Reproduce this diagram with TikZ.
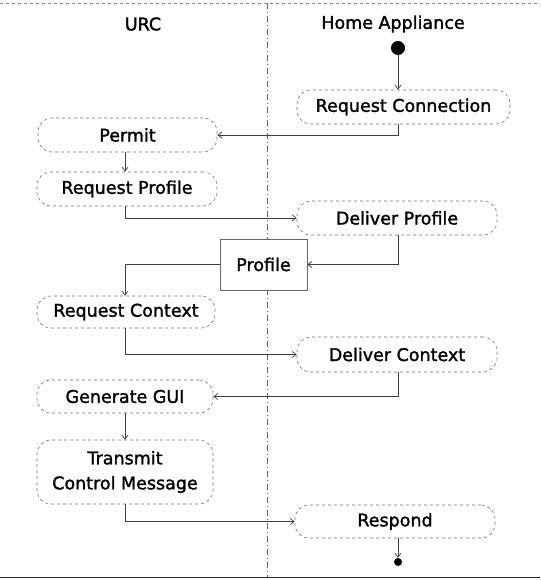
\documentclass[tikz,border=0pt]{standalone}
\usepackage{fontspec}
\setmainfont[FakeBold=1.6,BoldFont={DejaVu Sans}]{DejaVu Sans}
\usetikzlibrary{arrows.meta}
\begin{document}
\begin{tikzpicture}[x=1pt,y=-1pt,
  txt/.style={font=\fontsize{17.5}{25}\selectfont\bfseries, text=black},
  act/.style={txt, draw=black!55, dashed, line width=0.6pt, rounded corners=14pt,
    minimum height=34pt, inner sep=0pt, align=center, fill=white},
  obj/.style={txt, draw=black!60, line width=0.6pt, fill=white, minimum width=87pt,
    minimum height=51pt, inner sep=0pt},
  conn/.style={draw=black!75, line width=0.7pt, -{Straight Barb[length=4pt,width=6pt]}},
  lane/.style={draw=black!60, line width=0.6pt, dash pattern=on 6pt off 3pt on 1pt off 3pt}]
\useasboundingbox (0,0) rectangle (540,580);
% frame lines and lane divider
\coordinate (tl) at (0,3);
\coordinate (tr) at (540,3);
\coordinate (bl) at (0,577);
\coordinate (br) at (540,577);
\coordinate (dt) at (267,3);
\coordinate (db) at (267,577);
\draw[draw=black!45, dashed, line width=0.5pt] (tl) -- (tr);
\draw[draw=black!85, line width=1pt] (bl) -- (br);
\draw[lane] (dt) -- (db);
% lane titles
\node[txt] (urc) at (143,24) {URC};
\node[txt] (ha) at (393,24) {Home Appliance};
% helper x positions
\coordinate (R) at (398,0);
\coordinate (L) at (125,0);
% nodes
\node[circle, fill=black, minimum size=14pt, inner sep=0pt] (start) at (398,48) {};
\node[act, minimum width=213pt] (rc) at (403.5,107) {Request Connection};
\node[act, minimum width=179pt] (permit) at (127.5,135) {Permit};
\node[act, minimum width=180pt] (rp) at (127,189) {Request Profile};
\node[act, minimum width=200pt] (dp) at (397,218) {Deliver Profile};
\node[obj] (prof) at (263.5,264.5) {Profile};
\node[act, minimum width=178pt, minimum height=32pt] (rcx) at (126,312) {Request Context};
\node[act, minimum width=200pt, minimum height=35pt] (dcx) at (397,354.5) {Deliver Context};
\node[act, minimum width=176pt, minimum height=33pt] (gg) at (125,396.5) {Generate GUI};
\node[act, minimum width=176pt, minimum height=64pt] (tcm) at (125,472) {Transmit\\Control Message};
\node[act, minimum width=200pt, minimum height=33pt] (resp) at (395,521.5) {Respond};
\node[circle, fill=black, minimum size=8pt, inner sep=0pt] (end) at (398,562) {};
% connectors
\draw[conn] (start) -- (rc.north -| start);
\draw[conn] (rc.south -| R) |- (permit.east);
\draw[conn] (permit.south -| L) -- (rp.north -| L);
\draw[conn] (rp.south -| L) |- (dp.west);
\draw[conn] (dp.south -| R) |- (prof.east);
\draw[conn] (prof.west) -| (rcx.north -| L);
\draw[conn] (rcx.south -| L) |- (dcx.west);
\draw[conn] (dcx.south -| R) |- (gg.east);
\draw[conn] (gg.south -| L) -- (tcm.north -| L);
\draw[conn] (tcm.south -| L) |- (resp.west);
\draw[conn] (resp.south -| R) -- (end);
\end{tikzpicture}
\end{document}
